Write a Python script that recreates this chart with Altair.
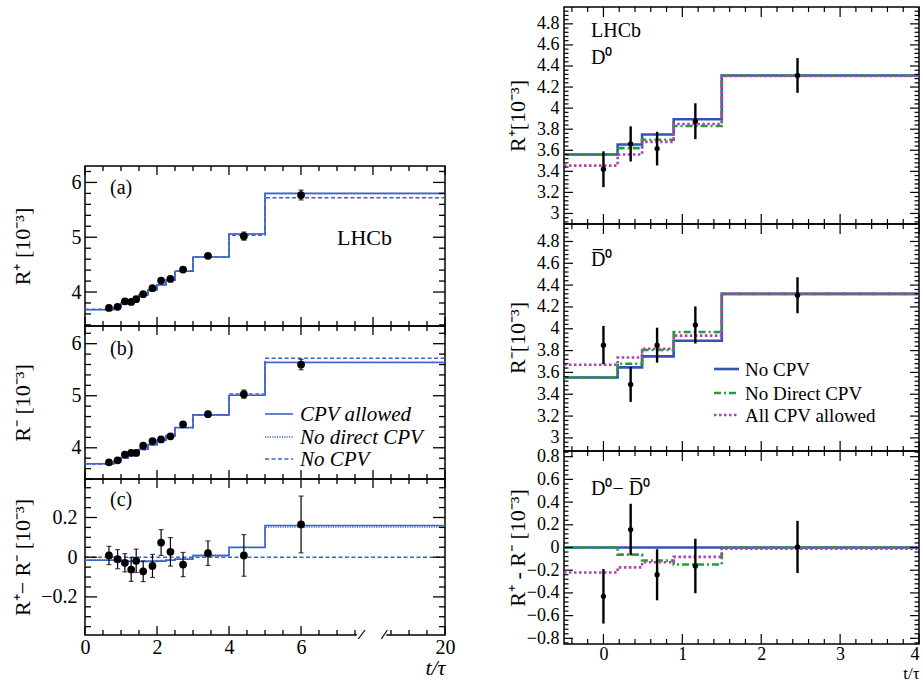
import altair as alt
import pandas as pd

SERIF = "Liberation Serif"
BLUE = "#3d63c8"
R_BLUE = "#3453b5"
R_GREEN = "#279a3c"
R_MAGENTA = "#b43fb4"

# ---------------- left figure: R+, R- and R+ - R- versus t/tau ----------------
bin_edges_t = [0.0, 0.8, 1.0, 1.2, 1.35, 1.5, 1.75, 2.0, 2.25, 2.5, 3.0, 4.0, 5.0, 20.0]
t_centres = [0.665, 0.905, 1.108, 1.283, 1.422, 1.616, 1.874, 2.114, 2.373, 2.724, 3.416, 4.413, 6.002]

r_plus = [3.71, 3.73, 3.83, 3.82, 3.87, 3.96, 4.07, 4.21, 4.24, 4.41, 4.66, 5.02, 5.77]
r_plus_err = [0.03, 0.03, 0.03, 0.03, 0.03, 0.03, 0.035, 0.035, 0.035, 0.04, 0.04, 0.075, 0.09]
r_minus = [3.72, 3.76, 3.87, 3.90, 3.90, 4.04, 4.13, 4.16, 4.22, 4.45, 4.645, 5.03, 5.60]
r_minus_err = [0.03, 0.03, 0.03, 0.03, 0.03, 0.03, 0.035, 0.035, 0.035, 0.04, 0.04, 0.08, 0.10]
r_diff = [0.009, -0.010, -0.028, -0.062, -0.018, -0.071, -0.044, 0.074, 0.027, -0.037, 0.020, 0.009, 0.165]
r_diff_err = [0.046, 0.048, 0.046, 0.060, 0.059, 0.052, 0.058, 0.065, 0.072, 0.061, 0.062, 0.105, 0.143]

plus_cpv = [3.677, 3.717, 3.790, 3.839, 3.879, 3.949, 4.040, 4.130, 4.218, 4.380, 4.640, 5.060, 5.800]
plus_nodirect = [3.679, 3.719, 3.792, 3.841, 3.881, 3.951, 4.042, 4.132, 4.220, 4.382, 4.641, 5.058, 5.795]
plus_nocpv = [3.685, 3.726, 3.800, 3.850, 3.890, 3.960, 4.050, 4.140, 4.226, 4.385, 4.636, 5.035, 5.720]
minus_cpv = [3.692, 3.735, 3.810, 3.861, 3.901, 3.971, 4.061, 4.150, 4.233, 4.390, 4.632, 5.010, 5.640]
minus_nodirect = [3.690, 3.733, 3.808, 3.859, 3.899, 3.969, 4.059, 4.148, 4.231, 4.388, 4.631, 5.012, 5.645]
minus_nocpv = [3.685, 3.726, 3.800, 3.850, 3.890, 3.960, 4.050, 4.140, 4.226, 4.385, 4.636, 5.035, 5.720]
diff_cpv = [-0.015, -0.018, -0.020, -0.022, -0.022, -0.022, -0.021, -0.020, -0.015, -0.010, 0.008, 0.050, 0.160]
diff_nodirect = [-0.012, -0.015, -0.017, -0.019, -0.019, -0.019, -0.018, -0.017, -0.012, -0.007, 0.010, 0.047, 0.152]
diff_nocpv = [0.0, 0.0, 0.0, 0.0, 0.0, 0.0, 0.0, 0.0, 0.0, 0.0, 0.0, 0.0, 0.0]

# ---------------- right figure: D0 / D0bar / difference ----------------
r_edges = [-0.5, 0.18, 0.49, 0.89, 1.5, 4.0]
r_t = [0.0, 0.345, 0.68, 1.165, 2.46]

d0_val = [3.42, 3.66, 3.616, 3.876, 4.31]
d0_err = [0.17, 0.167, 0.16, 0.17, 0.165]
d0_nocpv = [3.56, 3.654, 3.75, 3.895, 4.31]
d0_nodirect = [3.56, 3.62, 3.70, 3.83, 4.31]
d0_all = [3.454, 3.56, 3.68, 3.85, 4.305]

d0b_val = [3.85, 3.49, 3.85, 4.035, 4.307]
d0b_err = [0.176, 0.16, 0.16, 0.17, 0.165]
d0b_nocpv = [3.554, 3.646, 3.747, 3.89, 4.32]
d0b_nodirect = [3.554, 3.68, 3.805, 3.97, 4.32]
d0b_all = [3.67, 3.737, 3.817, 3.937, 4.32]

dd_val = [-0.43, 0.158, -0.24, -0.163, 0.005]
dd_err = [0.24, 0.227, 0.225, 0.24, 0.23]
dd_nocpv = [0.0, 0.0, 0.0, 0.0, 0.0]
dd_nodirect = [0.0, -0.063, -0.115, -0.15, 0.0]
dd_all = [-0.22, -0.175, -0.13, -0.083, -0.01]

# broken time axis: linear up to 7.5, compressed by 5x beyond
BREAK = 7.5
SQUEEZE = 0.2


def axis_t(t):
    return t if t <= BREAK else BREAK + (t - BREAK) * SQUEEZE


def step_df(edges, levels, tf=lambda v: v):
    return pd.DataFrame({"x": [tf(e) for e in edges], "y": list(levels) + [levels[-1]]})


def point_df(xs, ys, errs, tf=lambda v: v):
    return pd.DataFrame({
        "x": [tf(v) for v in xs],
        "y": ys,
        "lo": [y - e for y, e in zip(ys, errs)],
        "hi": [y + e for y, e in zip(ys, errs)],
    })


def tick_values(lo, hi, step, skip=()):
    skip_r = {round(s, 6) for s in skip}
    n = int(round((hi - lo) / step))
    out = []
    for i in range(n + 1):
        v = round(lo + i * step, 6)
        if v not in skip_r:
            out.append(v)
    return out


def text_layer(s, px, py, size, italic=False, align="left"):
    kw = dict(font=SERIF, fontSize=size, align=align, baseline="alphabetic", color="black")
    if italic:
        kw["fontStyle"] = "italic"
    return alt.Chart(pd.DataFrame({"s": [s]})).mark_text(**kw).encode(
        text="s:N", x=alt.value(px), y=alt.value(py))


def legend_line(x0, x1, y, color, width, dash=None):
    kw = dict(color=color, strokeWidth=width)
    if dash:
        kw["strokeDash"] = dash
    return alt.Chart(pd.DataFrame({"s": [0]})).mark_rule(**kw).encode(
        x=alt.value(x0), x2=alt.value(x1), y=alt.value(y))


def build_panel(w, h, xdom, ydom, lines, points, yaxis,
                ymaj, ymin, ylen, xtop, xbot, xlen,
                xaxis=None, marker=60, err_w=1.2, cap=0, tick_w=1.3, decor=None):
    # every layer carries the same axis definition so the shared axes merge cleanly
    def X():
        return alt.X("x:Q", scale=alt.Scale(domain=xdom, nice=False, zero=False), axis=xaxis)

    def Y(field="y"):
        return alt.Y(f"{field}:Q", scale=alt.Scale(domain=ydom, nice=False, zero=False), axis=yaxis)

    layers = []
    for df, color, dash, sw in lines:
        kw = dict(interpolate="step-after", color=color, strokeWidth=sw, clip=True)
        if dash:
            kw["strokeDash"] = dash
        layers.append(alt.Chart(df).mark_line(**kw).encode(x=X(), y=Y()))

    layers.append(alt.Chart(points).mark_rule(color="black", strokeWidth=err_w).encode(
        x=X(), y=Y("lo"), y2="hi:Q"))
    if cap:
        for f in ("lo", "hi"):
            layers.append(alt.Chart(points).mark_tick(
                color="black", orient="horizontal", size=cap, thickness=err_w).encode(x=X(), y=Y(f)))
    layers.append(alt.Chart(points).mark_circle(color="black", opacity=1, size=marker).encode(
        x=X(), y=Y("y")))

    # inward-pointing frame ticks on all four sides
    for vals, L in ((ymaj, ylen[0]), (ymin, ylen[1])):
        base = alt.Chart(pd.DataFrame({"y": vals})).mark_rule(color="black", strokeWidth=tick_w)
        layers.append(base.encode(y=Y(), x=alt.value(0), x2=alt.value(L)))
        layers.append(base.encode(y=Y(), x=alt.value(w), x2=alt.value(w - L)))
    for (maj, mnr), top in ((xtop, True), (xbot, False)):
        for vals, L in ((maj, xlen[0]), (mnr, xlen[1])):
            base = alt.Chart(pd.DataFrame({"x": vals})).mark_rule(color="black", strokeWidth=tick_w)
            y0, y1 = (0, L) if top else (h, h - L)
            layers.append(base.encode(x=X(), y=alt.value(y0), y2=alt.value(y1)))

    if decor is not None:
        layers.extend(decor(X, Y))
    return alt.layer(*layers).properties(width=w, height=h)


def y_axis(title, values, w_title_x, h, label_size, label_pad, title_size):
    return alt.Axis(values=values, format="~g", ticks=False, domain=False, grid=False,
                    labelFont=SERIF, labelFontSize=label_size, labelPadding=label_pad,
                    labelColor="black", title=title, titleFont=SERIF, titleFontSize=title_size,
                    titleFontWeight="normal", titleColor="black", titleX=w_title_x,
                    titleY=h / 2, titleAngle=270, titleAlign="center", titleBaseline="middle")


# ---------------- left column ----------------
LW = 360
LX = [0, 10]
l_top_ticks = ([0, 2, 4, 6, 8, 10], tick_values(0, 10, 0.5, skip=[0, 2, 4, 6, 8, 10]))
l_bot_ticks_last = ([0, 2, 4, 6, 10],
                    tick_values(0, 7.5, 0.5, skip=[0, 2, 4, 6]) + [axis_t(12.5), axis_t(15.0), axis_t(17.5)])

line_style_left = [(None, 1.6), ([1.2, 1.2], 1.4), ([4, 2.5], 1.4)]


def left_lines(sets):
    return [(step_df(bin_edges_t, lv, axis_t), BLUE, st[0], st[1]) for lv, st in zip(sets, line_style_left)]


ha, hb, hc = 160, 153, 156
dom_a, dom_b, dom_c = [3.38, 6.3], [3.4, 6.34], [-0.392, 0.394]
ymaj_ab = [4, 5, 6]

pa = build_panel(
    LW, ha, LX, dom_a,
    left_lines([plus_cpv, plus_nodirect, plus_nocpv]),
    point_df(t_centres, r_plus, r_plus_err, axis_t),
    y_axis("R\u207a [10\u207b\u00b3]", ymaj_ab, -63, ha, 20, 4, 22),
    ymaj_ab, tick_values(3.4, 6.2, 0.2, skip=ymaj_ab), (12, 6),
    l_top_ticks, l_top_ticks, (9, 5), cap=5,
    decor=lambda X, Y: [text_layer("(a)", 25, 28, 20), text_layer("LHCb", 252, 79, 22)],
)

pb = build_panel(
    LW, hb, LX, dom_b,
    left_lines([minus_cpv, minus_nodirect, minus_nocpv]),
    point_df(t_centres, r_minus, r_minus_err, axis_t),
    y_axis("R\u207b [10\u207b\u00b3]", ymaj_ab, -63, hb, 20, 4, 22),
    ymaj_ab, tick_values(3.4, 6.2, 0.2, skip=ymaj_ab), (12, 6),
    l_top_ticks, l_top_ticks, (9, 5), cap=5,
    decor=lambda X, Y: [
        text_layer("(b)", 25, 29, 20),
        legend_line(180, 208, 88, BLUE, 1.6),
        legend_line(180, 208, 111, BLUE, 1.4, [1.2, 1.2]),
        legend_line(180, 208, 133, BLUE, 1.4, [4, 2.5]),
        text_layer("CPV allowed", 215, 95, 21, italic=True),
        text_layer("No direct CPV", 215, 118, 21, italic=True),
        text_layer("No CPV", 215, 140, 21, italic=True),
    ],
)

gap_df = pd.DataFrame({"x": [7.55], "x2": [8.37]})
slash_df = pd.DataFrame({"x": [7.59, 8.23], "x2": [7.78, 8.40]})


def decor_c(X, Y):
    return [
        text_layer("(c)", 25, 27, 20),
        alt.Chart(gap_df).mark_rect(color="white").encode(
            x=X(), x2="x2:Q", y=alt.value(hc - 2), y2=alt.value(hc + 2)),
        alt.Chart(slash_df).mark_rule(color="black", strokeWidth=1.2).encode(
            x=X(), x2="x2:Q", y=alt.value(hc + 4), y2=alt.value(hc - 5)),
    ]


x_axis_left = alt.Axis(
    values=[0, 2, 4, 6, 10], ticks=False, domain=False, grid=False,
    labelExpr="datum.value > 7.5 ? format(7.5 + (datum.value - 7.5) / 0.2, 'd') : datum.label",
    labelFont=SERIF, labelFontSize=20, labelPadding=2, labelFlush=False, labelColor="black",
    title="t/\u03c4", titleFont=SERIF, titleFontSize=22, titleFontStyle="italic",
    titleFontWeight="normal", titleColor="black", titleAnchor="end", titlePadding=0)

ymaj_c = [-0.2, 0, 0.2]
pc = build_panel(
    LW, hc, LX, dom_c,
    left_lines([diff_cpv, diff_nodirect, diff_nocpv]),
    point_df(t_centres, r_diff, r_diff_err, axis_t),
    y_axis("R\u207a\u2212 R\u207b [10\u207b\u00b3]", ymaj_c, -63, hc, 20, 8, 22),
    ymaj_c, tick_values(-0.35, 0.35, 0.05, skip=ymaj_c), (12, 6),
    l_top_ticks, l_bot_ticks_last, (9, 5), xaxis=x_axis_left, cap=5, decor=decor_c,
)

spacer = alt.Chart(pd.DataFrame({"v": [0]})).mark_point(opacity=0).encode(
    x=alt.X("v:Q", axis=None), y=alt.Y("v:Q", axis=None)
).properties(width=LW, height=159, view=alt.ViewBackground(stroke="transparent"))

# ---------------- right column ----------------
RW = 355
RX = [-0.5, 4]
r_x_ticks = ([0, 1, 2, 3, 4], tick_values(-0.4, 3.8, 0.2, skip=[0, 1, 2, 3]))
line_style_right = [(R_BLUE, None), (R_GREEN, [7, 3, 2, 3]), (R_MAGENTA, [2.5, 2.5])]


def right_lines(sets):
    return [(step_df(r_edges, lv), c, d, 2.6) for lv, (c, d) in zip(sets, line_style_right)]


h1, h2, h3 = 217, 227, 193
dom_1, dom_2, dom_3 = [2.9, 4.96], [2.88, 4.96], [-0.85, 0.85]
ymaj_r = tick_values(3.0, 4.8, 0.2)
ymaj_d = tick_values(-0.8, 0.8, 0.2)

r1 = build_panel(
    RW, h1, RX, dom_1, right_lines([d0_nocpv, d0_nodirect, d0_all]),
    point_df(r_t, d0_val, d0_err),
    y_axis("R\u207a[10\u207b\u00b3]", ymaj_r, -47, h1, 18, 5, 22),
    ymaj_r, tick_values(2.92, 4.92, 0.04, skip=ymaj_r), (9, 4.5),
    r_x_ticks, r_x_ticks, (10, 5), marker=28, err_w=2.4, tick_w=1.2,
    decor=lambda X, Y: [text_layer("LHCb", 27, 30, 20), text_layer("D\u2070", 27, 57, 20)],
)

r2 = build_panel(
    RW, h2, RX, dom_2, right_lines([d0b_nocpv, d0b_nodirect, d0b_all]),
    point_df(r_t, d0b_val, d0b_err),
    y_axis("R\u207b[10\u207b\u00b3]", ymaj_r, -47, h2, 18, 5, 22),
    ymaj_r, tick_values(2.92, 4.96, 0.04, skip=ymaj_r), (9, 4.5),
    r_x_ticks, r_x_ticks, (10, 5), marker=28, err_w=2.4, tick_w=1.2,
    decor=lambda X, Y: [
        text_layer("D\u0305\u2070", 27, 42, 20),
        legend_line(150, 175, 145, R_BLUE, 2.6),
        legend_line(150, 175, 169, R_GREEN, 2.6, [7, 3, 2, 3]),
        legend_line(150, 175, 191, R_MAGENTA, 2.6, [2.5, 2.5]),
        text_layer("No CPV", 181, 152, 19),
        text_layer("No Direct CPV", 181, 176, 19),
        text_layer("All CPV allowed", 181, 198, 19),
    ],
)

x_axis_right = alt.Axis(
    values=[0, 1, 2, 3, 4], ticks=False, domain=False, grid=False,
    labelFont=SERIF, labelFontSize=18, labelPadding=1, labelColor="black", labelFlush=True,
    title="t/\u03c4", titleFont=SERIF, titleFontSize=17, titleFontWeight="normal",
    titleColor="black", titleAnchor="end", titlePadding=2)

r3 = build_panel(
    RW, h3, RX, dom_3, right_lines([dd_nocpv, dd_nodirect, dd_all]),
    point_df(r_t, dd_val, dd_err),
    y_axis("R\u207a - R\u207b [10\u207b\u00b3]", ymaj_d, -47, h3, 18, 5, 22),
    ymaj_d, tick_values(-0.84, 0.84, 0.04, skip=ymaj_d), (9, 4.5),
    r_x_ticks, r_x_ticks, (10, 5), xaxis=x_axis_right, marker=28, err_w=2.4, tick_w=1.2,
    decor=lambda X, Y: [text_layer("D\u2070\u2212 D\u0305\u2070", 27, 44, 20)],
)

left_col = alt.vconcat(spacer, pa, pb, pc, spacing=0, bounds="flush")
right_col = alt.vconcat(r1, r2, r3, spacing=0, bounds="flush")

chart = alt.hconcat(left_col, right_col, spacing=49).properties(
    padding={"left": 10, "top": 5, "right": 0, "bottom": 0}
).configure(font=SERIF).configure_view(stroke="black", strokeWidth=1.5)

chart.save("out.html", embed_options={"renderer": "svg", "actions": False})
